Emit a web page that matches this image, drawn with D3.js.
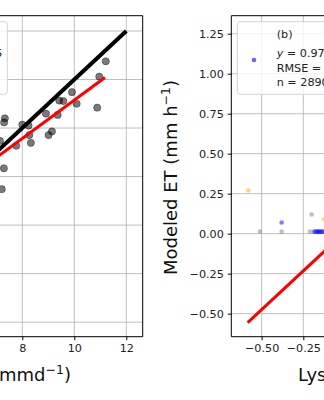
<!DOCTYPE html>
<html><head><meta charset="utf-8">
<script src="https://cdn.jsdelivr.net/npm/d3@7"></script>
<style>html,body{margin:0;padding:0;background:#fff;overflow:hidden}</style>
</head><body>
<script>
// ---- data ----
const aObs = [11.21,10.96,10.88,9.91,10.09,9.42,9.58,9.36,8.91,9.14,9.01,8.33,8.27,8.00,8.24,7.77,7.33,7.30,7.14,7.29,7.21];
const aMod = [10.75,10.12,8.84,9.48,9.00,9.13,9.11,8.54,8.59,7.86,7.71,7.39,7.71,8.14,8.10,7.27,8.40,8.23,7.47,6.34,5.48];
const aTicks = [0,2,4,6,8,10,12];
const aOneToOne = [0,12];
const aFitX = [1.0,11.18];
const aSlope = 0.79, aIntercept = 1.25;
const aLegend = ["(a)","y = 0.79x + 1.25","RMSE = 0.96","n = 35"];

const bGrayX = [-0.51,-0.38,-0.20,-0.21];
const bGrayY = [0.0125,0.0125,0.12,0.0125];
const bBlueX = [-0.38,-0.185,-0.175,-0.165,-0.158,-0.15,-0.14,-0.13];
const bBlueY = [0.07,0.0125,0.0125,0.0125,0.0125,0.0125,0.0125,0.0125];
const bOrangeX = [-0.58,-0.125];
const bOrangeY = [0.27,0.09];
const bYTicks = [-0.5,-0.25,0,0.25,0.5,0.75,1.0,1.25];
const bXTicks = [-0.5,-0.25,0,0.25,0.5,0.75,1.0,1.25];
const bFitX = [-0.584,1.3];
const bSlope = 0.97, bIntercept = 0.01;
const bLegend = ["(b)","y = 0.97x + 0.01","RMSE = 0.05","n = 2890"];

// ---- drawing ----
const W=324,H=400,FONT="DejaVu Sans";
const svg=d3.select("body").append("svg").attr("width",W).attr("height",H).style("font-family",FONT);
svg.append("rect").attr("width",W).attr("height",H).attr("fill","#fff");
const fmt=v=>d3.format(".2f")(v).replace("-","\u2212");
const GRID="#b0b0b0";
const LF=11.2;

// Panel A
const ax={l:-201.3,r:142.7,t:15.7,b:336.7};
const xA=d3.scaleLinear().domain([-0.6,12.63]).range([ax.l,ax.r]);
const yA=d3.scaleLinear().domain([-0.6,12.63]).range([ax.b,ax.t]);
const gA=svg.append("g");
gA.append("clipPath").attr("id","cA").append("rect").attr("x",ax.l).attr("y",ax.t).attr("width",ax.r-ax.l).attr("height",ax.b-ax.t);
gA.selectAll("line.vg").data(aTicks).join("line").attr("class","vg").attr("x1",d=>xA(d)).attr("x2",d=>xA(d)).attr("y1",ax.t).attr("y2",ax.b).attr("stroke",GRID).attr("stroke-width",0.8);
gA.selectAll("line.hg").data(aTicks).join("line").attr("class","hg").attr("y1",d=>yA(d)).attr("y2",d=>yA(d)).attr("x1",ax.l).attr("x2",ax.r).attr("stroke",GRID).attr("stroke-width",0.8);
const pA=gA.append("g").attr("clip-path","url(#cA)");
pA.selectAll("circle").data(aObs).join("circle").attr("cx",d=>xA(d)).attr("cy",(d,i)=>yA(aMod[i])).attr("r",3.6)
  .attr("fill","#000").attr("fill-opacity",0.52).attr("stroke","#000").attr("stroke-opacity",0.45).attr("stroke-width",0.8);
pA.append("line").attr("x1",xA(aOneToOne[0])).attr("y1",yA(aOneToOne[0])).attr("x2",xA(aOneToOne[1])).attr("y2",yA(aOneToOne[1])).attr("stroke","#000").attr("stroke-width",4);
pA.append("line").attr("x1",xA(aFitX[0])).attr("y1",yA(aSlope*aFitX[0]+aIntercept)).attr("x2",xA(aFitX[1])).attr("y2",yA(aSlope*aFitX[1]+aIntercept)).attr("stroke","#ff0000").attr("stroke-width",3);
gA.append("path").attr("d",`M${ax.l},${ax.t}H${ax.r}V${ax.b}H${ax.l}`).attr("fill","none").attr("stroke","#000").attr("stroke-width",1);
// only ticks whose labels fall inside the picture
const aVisTicks=aTicks.filter(d=>xA(d)>8);
const axA=gA.append("g").attr("transform",`translate(0,${ax.b})`).call(d3.axisBottom(xA).tickValues(aVisTicks).tickSize(3.5).tickPadding(4).tickFormat(d3.format("d")));
axA.select(".domain").remove();
axA.selectAll("text").attr("font-size",11.2).attr("font-family",FONT).attr("fill","#222");
axA.selectAll("line").attr("stroke","#000");
// legend A
const lgA=gA.append("g");
const l2A=lgA.append("text").attr("x",2.5).attr("y",57.3).attr("text-anchor","end").attr("font-size",LF).attr("fill","#222");
l2A.append("tspan").attr("font-style","italic").text("y");
l2A.append("tspan").text(aLegend[1].slice(1));
lgA.insert("rect","text").attr("x",-120).attr("y",21.7).attr("width",127.3).attr("height",72.6).attr("rx",3).attr("fill","#fff").attr("fill-opacity",0.8).attr("stroke","#d4d4d4");
// ---- remaining legend A lines lie left of the picture edge
// x label A
const xlA=svg.append("text").attr("x",71).attr("y",381).attr("text-anchor","end").attr("font-size",18).attr("fill","#111");
xlA.append("tspan").text("Measured ET (mmd");
xlA.append("tspan").attr("font-size",12.5).attr("dy",-7).text("\u22121");
xlA.append("tspan").attr("dy",7).text(")");

// Panel B
const bx={l:231.3,r:571.7,t:15.7,b:336.7};
const xB=d3.scaleLinear().domain([-0.682,1.36]).range([bx.l,bx.r]);
const yB=d3.scaleLinear().domain([-0.644,1.3625]).range([bx.b,bx.t]);
const gB=svg.append("g");
gB.append("clipPath").attr("id","cB").append("rect").attr("x",bx.l).attr("y",bx.t).attr("width",bx.r-bx.l).attr("height",bx.b-bx.t);
gB.selectAll("line.vg").data(bXTicks).join("line").attr("class","vg").attr("x1",d=>xB(d)).attr("x2",d=>xB(d)).attr("y1",bx.t).attr("y2",bx.b).attr("stroke",GRID).attr("stroke-width",0.8);
gB.selectAll("line.hg").data(bYTicks).join("line").attr("class","hg").attr("y1",d=>yB(d)).attr("y2",d=>yB(d)).attr("x1",bx.l).attr("x2",bx.r).attr("stroke",GRID).attr("stroke-width",0.8);
const pB=gB.append("g").attr("clip-path","url(#cB)");
const dots=(xs,ys,c)=>pB.append("g").selectAll("circle").data(xs).join("circle").attr("cx",d=>xB(d)).attr("cy",(d,i)=>yB(ys[i])).attr("r",2.3).attr("fill",c).attr("fill-opacity",0.5);
dots(bGrayX,bGrayY,"#808080");
dots(bBlueX,bBlueY,"#0000ff");
dots(bOrangeX,bOrangeY,"#ffa500");
pB.append("line").attr("x1",xB(bFitX[0])).attr("y1",yB(bSlope*bFitX[0]+bIntercept)).attr("x2",xB(bFitX[1])).attr("y2",yB(bSlope*bFitX[1]+bIntercept)).attr("stroke","#ff0000").attr("stroke-width",3);
gB.append("path").attr("d",`M${bx.r},${bx.t}H${bx.l}V${bx.b}H${bx.r}`).attr("fill","none").attr("stroke","#000").attr("stroke-width",1);
const bVisX=bXTicks.filter(d=>xB(d)<W-8);
const axBx=gB.append("g").attr("transform",`translate(0,${bx.b})`).call(d3.axisBottom(xB).tickValues(bVisX).tickSize(3.5).tickPadding(4).tickFormat(fmt));
axBx.select(".domain").remove();
const axBy=gB.append("g").attr("transform",`translate(${bx.l},0)`).call(d3.axisLeft(yB).tickValues(bYTicks).tickSize(3.5).tickPadding(4).tickFormat(fmt));
axBy.select(".domain").remove();
gB.selectAll(".tick text").attr("font-size",11.2).attr("font-family",FONT).attr("fill","#222");
gB.selectAll(".tick line").attr("stroke","#000");
// legend B
const lgB=gB.append("g");
lgB.append("rect").attr("x",237.3).attr("y",21.7).attr("width",200).attr("height",72.6).attr("rx",3).attr("fill","#fff").attr("fill-opacity",0.8).attr("stroke","#d4d4d4");
lgB.append("circle").attr("cx",254).attr("cy",60).attr("r",2.3).attr("fill","#0000ff").attr("fill-opacity",0.6);
lgB.append("text").attr("x",276.7).attr("y",38.3).attr("font-size",LF).attr("fill","#222").text(bLegend[0]);
const l2B=lgB.append("text").attr("x",276.7).attr("y",57.3).attr("font-size",LF).attr("fill","#222");
l2B.append("tspan").attr("font-style","italic").text("y");
l2B.append("tspan").text(bLegend[1].slice(1));
lgB.append("text").attr("x",276.7).attr("y",72.3).attr("font-size",LF).attr("fill","#222").text(bLegend[2]);
lgB.append("text").attr("x",276.7).attr("y",85.7).attr("font-size",LF).attr("fill","#222").text(bLegend[3]);
// labels B
const ylB=svg.append("text").attr("transform","translate(177,177.5) rotate(-90)").attr("text-anchor","middle").attr("font-size",18).attr("fill","#111");
ylB.append("tspan").text("Modeled ET (mm h");
ylB.append("tspan").attr("font-size",12.5).attr("dy",-7).text("\u22121");
ylB.append("tspan").attr("dy",7).text(")");
const xlB=svg.append("text").attr("x",298).attr("y",381).attr("font-size",18).attr("fill","#111");
xlB.append("tspan").text("Lysimeter ET (mm h");
xlB.append("tspan").attr("font-size",12.5).attr("dy",-7).text("\u22121");
xlB.append("tspan").attr("dy",7).text(")");
</script>
</body></html>
